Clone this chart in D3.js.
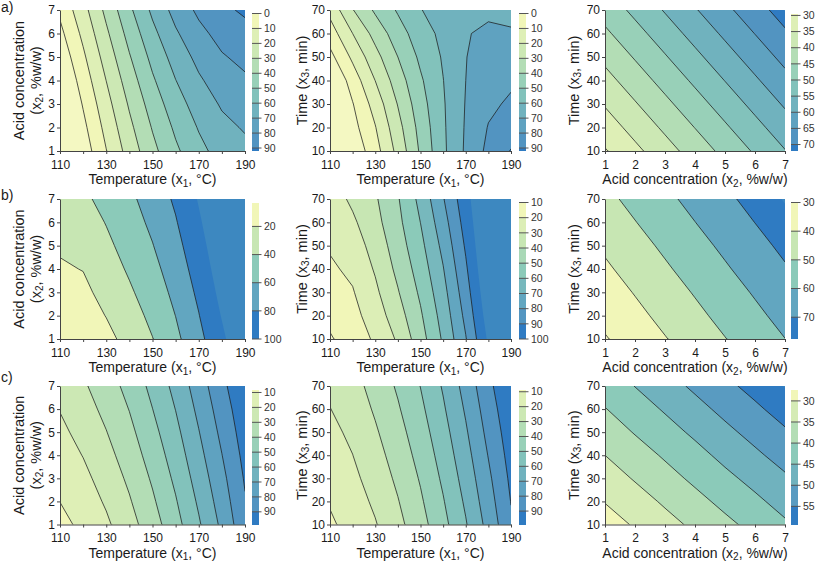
<!DOCTYPE html>
<html>
<head>
<meta charset="utf-8">
<script src="https://cdn.jsdelivr.net/npm/d3@7"></script>
<style>
  body { margin: 0; background: #fff; }
  text { font-family: "Liberation Sans", Arial, sans-serif; }
</style>
</head>
<body>
<svg id="chart" width="817" height="563"></svg>
<script>
// ---- grid nodes and axis ticks ----
const tempNodes = [110, 120, 130, 140, 150, 160, 170, 180, 190];
const acidNodes = [1, 2, 3, 4, 5, 6, 7];
const timeNodes = [10, 20, 30, 40, 50, 60, 70];
const tempLabels = [110, 130, 150, 170, 190];

// ---- surface values (rows go from bottom to top) ----
// a) x1 vs x2
const a1Values = [
  [-22.3, -5.8, 9.7, 24.2, 37.2, 48.2, 57.2, 64.0, 67.5],
  [-18.8, -2.6, 13.0, 27.6, 40.7, 51.8, 60.7, 67.4, 70.9],
  [-15.1, 0.8, 16.4, 31.2, 44.5, 55.7, 64.5, 71.1, 74.6],
  [-11.2, 4.4, 20.1, 35.1, 48.6, 59.8, 68.6, 75.0, 78.5],
  [-7.0, 8.2, 24.1, 39.2, 52.8, 64.1, 72.8, 79.1, 82.6],
  [-2.6, 12.3, 28.2, 43.5, 57.3, 68.7, 77.3, 83.4, 86.9],
  [2.0, 16.5, 32.5, 48.0, 62.0, 73.5, 82.0, 88.0, 91.5]
];
// a) x1 vs x3
const a2Values = [
  [-22.0, -7.5, 6.0, 23.0, 41.5, 58.0, 71.5, 82.5, 90.5],
  [-20.0, -3.5, 9.5, 26.5, 43.5, 58.5, 71.0, 80.5, 85.0],
  [-16.0, -0.5, 14.0, 30.5, 46.0, 59.0, 70.5, 78.0, 81.5],
  [-11.2, 4.4, 20.1, 35.1, 48.6, 59.8, 70.0, 75.5, 78.5],
  [-3.0, 12.0, 26.5, 40.0, 52.0, 61.0, 69.8, 73.5, 75.0],
  [5.0, 20.0, 33.5, 45.5, 55.5, 62.5, 69.5, 71.5, 71.5],
  [13.0, 29.5, 41.6, 51.1, 59.6, 64.5, 67.5, 68.5, 66.0]
];
// a) x2 vs x3
const a3Values = [
  [29.6, 33.8, 38.0, 42.2, 46.4, 50.6, 54.8],
  [32.5, 36.7, 40.9, 45.1, 49.3, 53.5, 57.7],
  [35.4, 39.6, 43.8, 48.0, 52.2, 56.4, 60.6],
  [38.3, 42.5, 46.7, 50.9, 55.1, 59.3, 63.5],
  [41.2, 45.4, 49.6, 53.8, 58.0, 62.2, 66.4],
  [44.1, 48.3, 52.5, 56.7, 60.9, 65.1, 69.3],
  [47.0, 51.2, 55.4, 59.6, 63.8, 68.0, 72.2]
];
// b) x1 vs x2
const b1Values = [
  [3.0, 8.0, 15.0, 26.0, 39.5, 55.5, 74.5, 96.0, 118.0],
  [8.4, 11.8, 20.5, 31.8, 44.6, 60.2, 79.3, 101.1, 122.4],
  [13.4, 15.9, 25.8, 37.3, 49.6, 64.9, 83.9, 105.8, 126.4],
  [18.0, 20.5, 31.0, 42.5, 54.5, 69.5, 88.5, 110.0, 130.0],
  [22.1, 25.4, 36.0, 47.3, 59.3, 74.1, 92.9, 113.8, 133.1],
  [25.8, 30.8, 40.8, 51.8, 63.9, 78.6, 97.3, 117.1, 135.8],
  [29.0, 36.5, 45.5, 56.0, 68.5, 83.0, 101.5, 120.0, 138.0]
];
// b) x1 vs x3
const b2Values = [
  [9.0, 14.7, 21.4, 31.4, 45.8, 61.4, 79.4, 101.7, 122.0],
  [12.5, 16.9, 24.8, 35.6, 48.7, 63.9, 82.6, 105.0, 125.8],
  [15.7, 19.3, 28.0, 39.3, 51.7, 66.6, 85.6, 107.8, 128.4],
  [18.5, 22.0, 31.0, 42.5, 54.5, 69.5, 88.5, 110.0, 130.0],
  [21.0, 25.0, 33.8, 45.2, 57.3, 72.6, 91.3, 111.6, 130.4],
  [23.2, 28.3, 36.8, 47.5, 60.1, 75.9, 94.0, 112.6, 129.8],
  [25.0, 31.9, 38.8, 49.2, 62.8, 79.3, 96.5, 113.0, 128.0]
];
// b) x2 vs x3
const b3Values = [
  [29.3, 34.4, 39.5, 44.6, 49.7, 54.8, 59.9],
  [32.4, 37.5, 42.6, 47.7, 52.8, 57.9, 63.0],
  [35.4, 40.5, 45.6, 50.7, 55.8, 60.9, 66.0],
  [38.5, 43.6, 48.7, 53.8, 58.9, 64.0, 69.1],
  [41.5, 46.6, 51.7, 56.8, 61.9, 67.0, 72.1],
  [44.6, 49.7, 54.8, 59.9, 65.0, 70.1, 75.2],
  [47.6, 52.7, 57.8, 62.9, 68.0, 73.1, 78.2]
];
// c) x1 vs x2
const c1Values = [
  [7.5, 12.0, 18.3, 26.3, 35.6, 46.5, 58.8, 72.1, 87.3],
  [10.1, 14.8, 21.2, 29.1, 38.5, 49.2, 61.5, 74.7, 89.2],
  [12.7, 17.5, 24.0, 31.9, 41.3, 52.0, 64.2, 77.2, 91.0],
  [15.3, 20.3, 26.9, 34.7, 44.2, 54.7, 66.9, 79.8, 92.9],
  [17.8, 23.1, 29.7, 37.5, 47.0, 57.4, 69.6, 82.4, 94.8],
  [20.4, 25.8, 32.6, 40.3, 49.9, 60.2, 72.3, 84.9, 96.6],
  [23.0, 28.6, 35.4, 43.1, 52.7, 62.9, 75.0, 87.5, 98.5]
];
// c) x1 vs x3
const c2Values = [
  [8.5, 13.5, 19.3, 27.2, 36.3, 47.0, 59.2, 73.3, 88.5],
  [10.8, 15.6, 21.7, 29.5, 38.6, 49.3, 61.6, 75.7, 90.3],
  [13.0, 17.8, 24.1, 31.9, 40.9, 51.7, 64.0, 78.0, 92.0],
  [15.3, 19.9, 26.5, 34.2, 43.3, 54.0, 66.4, 80.4, 93.8],
  [17.5, 22.0, 28.8, 36.6, 45.6, 56.3, 68.8, 82.8, 95.5],
  [19.8, 24.2, 31.2, 39.0, 47.9, 58.7, 71.2, 85.1, 97.3],
  [22.0, 26.3, 33.6, 41.3, 50.2, 61.0, 73.6, 87.5, 99.0]
];
// c) x2 vs x3
const c3Values = [
  [27.8, 30.5, 33.3, 36.0, 38.8, 41.5, 44.3],
  [30.2, 32.9, 35.7, 38.5, 41.3, 44.0, 46.8],
  [32.6, 35.4, 38.2, 41.0, 43.8, 46.5, 49.3],
  [35.0, 37.8, 40.6, 43.4, 46.3, 49.1, 51.9],
  [37.4, 40.3, 43.1, 45.9, 48.8, 51.6, 54.4],
  [39.8, 42.7, 45.5, 48.4, 51.3, 54.1, 57.0],
  [42.3, 45.1, 48.0, 50.9, 53.8, 56.6, 59.5]
];

// ---- contour levels (also the colour bar labels) and colour bar ranges ----
const a1Levels = [0, 10, 20, 30, 40, 50, 60, 70, 80, 90];
const a2Levels = [0, 10, 20, 30, 40, 50, 60, 70, 80, 90];
const a3Levels = [30, 35, 40, 45, 50, 55, 60, 65, 70];
const b1Levels = [20, 40, 60, 80, 100];
const b2Levels = [10, 20, 30, 40, 50, 60, 70, 80, 90, 100];
const b3Levels = [30, 40, 50, 60, 70];
const c1Levels = [10, 20, 30, 40, 50, 60, 70, 80, 90, 100];
const c2Levels = [10, 20, 30, 40, 50, 60, 70, 80, 90, 100];
const c3Levels = [30, 35, 40, 45, 50, 55];

const a1Range = [0, 92], a2Range = [0, 92], a3Range = [29.4, 72];
const b1Range = [3, 100], b2Range = [10, 100], b3Range = [30, 77.6];
const c1Range = [8, 98.5], c2Range = [8.5, 99], c3Range = [27.3, 59.3];

// ---- styling ----
const cmap = d3.scaleLinear()
  .domain([0, 0.25, 0.5, 0.75, 0.9, 1])
  .range(["#f1f6b8", "#c7e6b3", "#8bcab9", "#62a6c0", "#5193c1", "#2f7bc2"])
  .interpolate(d3.interpolateRgb);
const underColor = "#f4f8c2";
const overColor = "#3d88c0";

const cols = [
  { left: 60, right: 245, bar: 252, ytitle: [19, 36] },
  { left: 330, right: 511, bar: 519, ytitle: [302] },
  { left: 605, right: 785, bar: 791, ytitle: [574] }
];
const rows = [
  { top: 10, bottom: 151, tag: "a)", tagY: 12, titleDy: 33 },
  { top: 199, bottom: 339, tag: "b)", tagY: 200, titleDy: 33 },
  { top: 386, bottom: 524.5, tag: "c)", tagY: 382, titleDy: 33 }
];

const tempTitle = [["Temperature (x", 0], ["1", 1], [", °C)", 0]];
const acidTitle = [["Acid concentration (x", 0], ["2", 1], [", %w/w)", 0]];
const acidTitleTwoLines = [[["Acid concentration", 0]], [["(x", 0], ["2", 1], [", %w/w)", 0]]];
const timeTitle = [[["Time (x", 0], ["3", 1], [", min)", 0]]];

const panels = [
  { id: "a1", col: 0, row: 0, xn: tempNodes, yn: acidNodes, v: a1Values, lv: a1Levels, rg: a1Range },
  { id: "a2", col: 1, row: 0, xn: tempNodes, yn: timeNodes, v: a2Values, lv: a2Levels, rg: a2Range },
  { id: "a3", col: 2, row: 0, xn: acidNodes, yn: timeNodes, v: a3Values, lv: a3Levels, rg: a3Range },
  { id: "b1", col: 0, row: 1, xn: tempNodes, yn: acidNodes, v: b1Values, lv: b1Levels, rg: b1Range, noLine: 100 },
  { id: "b2", col: 1, row: 1, xn: tempNodes, yn: timeNodes, v: b2Values, lv: b2Levels, rg: b2Range, noLine: 100 },
  { id: "b3", col: 2, row: 1, xn: acidNodes, yn: timeNodes, v: b3Values, lv: b3Levels, rg: b3Range },
  { id: "c1", col: 0, row: 2, xn: tempNodes, yn: acidNodes, v: c1Values, lv: c1Levels, rg: c1Range },
  { id: "c2", col: 1, row: 2, xn: tempNodes, yn: timeNodes, v: c2Values, lv: c2Levels, rg: c2Range },
  { id: "c3", col: 2, row: 2, xn: acidNodes, yn: timeNodes, v: c3Values, lv: c3Levels, rg: c3Range }
];

const svg = d3.select("#chart");
const defs = svg.append("defs");

// text with subscripts
function writeParts(text, parts) {
  parts.forEach(([s, sub], i) => {
    const t = text.append("tspan").text(s);
    if (sub) t.attr("font-size", "10px").attr("dy", 2.5);
    else if (i > 0 && parts[i - 1][1]) t.attr("dy", -2.5);
  });
}

function drawPanel(p) {
  const c = cols[p.col], r = rows[p.row];
  const x = d3.scaleLinear().domain(d3.extent(p.xn)).range([c.left, c.right]);
  const y = d3.scaleLinear().domain(d3.extent(p.yn)).range([r.bottom, r.top]);
  const nx = p.xn.length, ny = p.yn.length;
  const xs = p.xn[1] - p.xn[0], ys = p.yn[1] - p.yn[0];
  const flat = p.v.flat();

  // band boundaries shared by plot and colour bar
  const lo = p.rg[0], hi = p.rg[1];
  const bounds = [lo, ...p.lv.filter(l => l > lo && l < hi), hi];
  const nb = bounds.length - 1;
  const bandColor = i => cmap(i / (nb - 1));

  // grid coordinates -> data -> pixels
  const proj = d3.geoTransform({
    point(px, py) {
      this.stream.point(x(p.xn[0] + (px - 0.5) * xs), y(p.yn[0] + (py - 0.5) * ys));
    }
  });
  const path = d3.geoPath(proj);

  defs.append("clipPath").attr("id", "clip-" + p.id)
    .append("rect")
    .attr("x", c.left).attr("y", r.top)
    .attr("width", c.right - c.left).attr("height", r.bottom - r.top);

  const g = svg.append("g").attr("clip-path", `url(#clip-${p.id})`);
  g.append("rect")
    .attr("x", c.left).attr("y", r.top)
    .attr("width", c.right - c.left).attr("height", r.bottom - r.top)
    .attr("fill", underColor);

  const bands = d3.contours().size([nx, ny]).thresholds(bounds.slice(0, -1))(flat);
  g.selectAll("path.band").data(bands).join("path")
    .attr("class", "band")
    .attr("d", path)
    .attr("fill", (d, i) => bandColor(i));

  if (d3.max(flat) > hi) {
    const over = d3.contours().size([nx, ny]).thresholds([hi])(flat);
    g.selectAll("path.over").data(over).join("path")
      .attr("class", "over").attr("d", path).attr("fill", overColor);
  }

  const lineLevels = p.lv.filter(l => l !== p.noLine);
  const lines = d3.contours().size([nx, ny]).thresholds(lineLevels)(flat);
  g.selectAll("path.line").data(lines).join("path")
    .attr("class", "line")
    .attr("d", path)
    .attr("fill", "none")
    .attr("stroke", "#1c1c1c")
    .attr("stroke-width", 0.75);

  // axes
  const isTemp = p.xn === tempNodes;
  const xAxis = d3.axisBottom(x).tickValues(p.xn).tickSize(3).tickSizeOuter(0).tickPadding(6)
    .tickFormat(d => (!isTemp || tempLabels.includes(d)) ? d : "");
  const gx = svg.append("g").attr("transform", `translate(0,${r.bottom})`).call(xAxis);
  const yAxis = d3.axisLeft(y).tickValues(p.yn).tickSize(3).tickSizeOuter(0).tickPadding(2)
    .tickFormat(d => d);
  const gy = svg.append("g").attr("transform", `translate(${c.left},0)`).call(yAxis);
  [gx, gy].forEach(a => {
    a.attr("font-size", 12).attr("font-family", null);
    a.select(".domain").attr("stroke", "#444");
    a.selectAll(".tick line").attr("stroke", "#444");
    a.selectAll(".tick text").attr("fill", "#1a1a1a");
  });

  // axis titles
  const xt = svg.append("text")
    .attr("x", (c.left + c.right) / 2).attr("y", Math.min(r.bottom + r.titleDy, 557.5))
    .attr("text-anchor", "middle").attr("font-size", 14).attr("fill", "#1a1a1a");
  writeParts(xt, p.col === 2 ? acidTitle : tempTitle);

  const yLines = p.col === 0 ? acidTitleTwoLines : timeTitle;
  yLines.forEach((parts, i) => {
    const cx = c.ytitle[i], cy = (r.top + r.bottom) / 2;
    const yt = svg.append("text")
      .attr("transform", `translate(${cx},${cy}) rotate(-90)`)
      .attr("text-anchor", "middle").attr("dominant-baseline", "central")
      .attr("font-size", 14.5).attr("fill", "#1a1a1a");
    writeParts(yt, parts);
  });

  // colour bar
  const barW = 6.5;
  const cb = d3.scaleLinear().domain([lo, hi]).range([r.top + 3.5, r.bottom]);
  const gb = svg.append("g");
  gb.selectAll("rect").data(d3.range(nb)).join("rect")
    .attr("x", c.bar).attr("width", barW)
    .attr("y", i => cb(bounds[i]))
    .attr("height", i => cb(bounds[i + 1]) - cb(bounds[i]))
    .attr("fill", i => bandColor(i))
    .attr("shape-rendering", "crispEdges");
  const labels = p.lv.filter(l => l >= lo - 0.01 && l <= hi + 0.01);
  gb.selectAll("line").data(labels).join("line")
    .attr("x1", c.bar).attr("x2", c.bar + barW + 3)
    .attr("y1", d => cb(d)).attr("y2", d => cb(d))
    .attr("stroke", "#555").attr("stroke-width", 1);
  gb.selectAll("text").data(labels).join("text")
    .attr("x", c.bar + 12).attr("y", d => cb(d)).attr("dy", "0.35em")
    .attr("font-size", 10.5).attr("fill", "#333")
    .text(d => d);
}

panels.forEach(drawPanel);

// panel tags
rows.forEach(r => {
  svg.append("text").attr("x", 1).attr("y", r.tagY)
    .attr("font-size", 14).attr("fill", "#1a1a1a").text(r.tag);
});
</script>
</body>
</html>
